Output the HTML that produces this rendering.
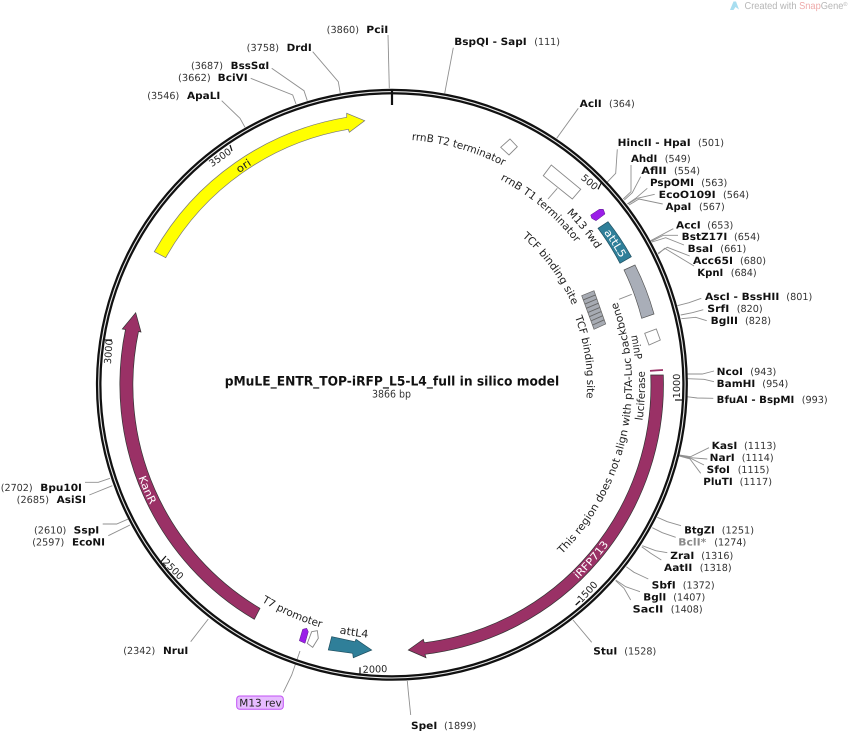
<!DOCTYPE html>
<html lang="en">
<head>
<meta charset="utf-8">
<title>pMuLE_ENTR_TOP-iRFP_L5-L4_full in silico model</title>
<style>
html,body{margin:0;padding:0;background:#fff;width:848px;height:731px;overflow:hidden}
svg{display:block}
text{font-family:"DejaVu Sans","Liberation Sans",sans-serif;fill:#111;text-rendering:geometricPrecision}
.n{font-weight:bold;font-size:10px}
.p{font-size:9.7px;fill:#333}
.t{font-size:9.7px;fill:#222}
.f{font-size:10.5px;fill:#222}
.l{fill:none;stroke:#8f8f8f;stroke-width:.9}
.w{fill:#fff;font-size:10.5px}
</style>
</head>
<body>
<svg width="848" height="731" viewBox="0 0 848 731" xmlns="http://www.w3.org/2000/svg">
<defs>
<path id="c246" d="M392 139.2A245.6 245.6 0 1 1 392 630.4A245.6 245.6 0 1 1 392 139.2"/>
<path id="c232" d="M392 152.8A232 232 0 1 1 392 616.8A232 232 0 1 1 392 152.8"/>
<path id="c245" d="M392 139.8A245 245 0 1 1 392 629.8A245 245 0 1 1 392 139.8"/>
<path id="c197" d="M392 187.8A197 197 0 1 1 392 581.8A197 197 0 1 1 392 187.8"/>
<path id="c195" d="M392 189.8A195 195 0 1 1 392 579.8A195 195 0 1 1 392 189.8"/>
<path id="c244" d="M392 140.8A244 244 0 1 1 392 628.8A244 244 0 1 1 392 140.8"/>
<path id="c261" d="M392 123.8A261 261 0 1 1 392 645.8A261 261 0 1 1 392 123.8"/>
<path id="a253" d="M392 131.8A253 253 0 1 0 392 637.8A253 253 0 1 0 392 131.8"/>
<path id="a240" d="M392 144.8A240 240 0 1 0 392 624.8A240 240 0 1 0 392 144.8"/>
<path id="a254" d="M392 130.8A254 254 0 1 0 392 638.8A254 254 0 1 0 392 130.8"/>
<path id="a269" d="M392 115.8A269 269 0 1 0 392 653.8A269 269 0 1 0 392 115.8"/>
<path id="a270" d="M392 114.8A270 270 0 1 0 392 654.8A270 270 0 1 0 392 114.8"/>
</defs>

<!-- watermark -->
<path d="M730 10L733.5 1.5L736 1.5L739 9.5L735.5 7L733.5 10Z" fill="#a8def0"/>
<text x="744.5" y="9" style="font-family:'Liberation Sans',sans-serif;font-size:10px;fill:#b5b5b5" textLength="103" lengthAdjust="spacingAndGlyphs">Created with <tspan style="fill:#eeaaaa">Snap</tspan>Gene<tspan font-size="6" dy="-3">®</tspan></text>

<!-- connector lines -->
<g class="l">
<polyline points="453.3,47.7 444.7,93.3"/>
<polyline points="578.3,108.3 556.7,138.3"/>
<polyline points="617.3,149.3 615.7,173.3 606.7,182.7 603,186"/>
<polyline points="631,165 631,191.7 623.3,199"/>
<polyline points="640.7,176.7 632.3,192.7 624.3,200"/>
<polyline points="647.3,188.3 635.7,198.3 627.3,204"/>
<polyline points="654.7,194.3 637.3,198.3 628,204"/>
<polyline points="662.7,204 639,199 629,205"/>
<polyline points="673.3,228.7 661.3,235 650.7,240.7"/>
<polyline points="678,235.3 663.3,235.3 651.3,241.3"/>
<polyline points="684,245 665.7,237.7 652,242"/>
<polyline points="689.7,256 667.3,247.3 658,253.3"/>
<polyline points="694,266 664.7,248.3 658.3,254"/>
<polyline points="701.3,298.3 689,302.7 677.3,305.7"/>
<polyline points="703.3,309.7 692.3,312.7 680.7,315"/>
<polyline points="706.7,320.7 695.7,317.3 681.3,318.7"/>
<polyline points="714,371 702.3,374 687.3,374"/>
<polyline points="714,381.7 704,379.3 687.3,378.7"/>
<polyline points="713.3,398.3 697.3,398 686.7,396.7"/>
<polyline points="709,447.7 690.7,456.7 679,455"/>
<polyline points="707.3,459 690.7,457.7 679,455.3"/>
<polyline points="704,465 690.7,458.3 679,455.7"/>
<polyline points="700.7,473.3 690,459 679,456"/>
<polyline points="681,525.7 667.3,521.7 657.3,517.3"/>
<polyline points="675.7,537.3 662.3,532.7 652.3,527.7"/>
<polyline points="667.3,552.7 655.7,550.7 642.3,545.7"/>
<polyline points="661.3,560 650.7,553.3 641.7,546.7"/>
<polyline points="648.3,579 634,572.3 626.3,566.7"/>
<polyline points="640,591.7 625.7,586.7 615.7,580"/>
<polyline points="630.7,600 624,588.3 615.7,580.7"/>
<polyline points="591.7,642.3 573,620"/>
<polyline points="410.7,715 408.3,691.7 407.3,681"/>
<polyline points="388,35 389.3,88.3"/>
<polyline points="312.7,51.7 338.3,81.7 340.3,93.3"/>
<polyline points="271.7,68.3 304,90.7 307.3,100.7"/>
<polyline points="250.7,78.3 292.7,95 296,104"/>
<polyline points="221.7,100.7 240,118.3 245,127.3"/>
<polyline points="85,482.3 98.3,482.3 110,478.3"/>
<polyline points="89.3,495 112.3,485.7"/>
<polyline points="102.7,524 116.7,524 128.3,519"/>
<polyline points="108.3,535.7 130,525"/>
<polyline points="190.7,641.7 208.3,619"/>
<polyline points="283.3,692.3 291.7,675 300,651"/>
<polyline points="619,299.3 631.7,294.3"/>
<polyline points="557.3,188.3 548,199"/>
</g>

<!-- backbone ring -->
<circle cx="391.9" cy="384.8" r="293.2" fill="none" stroke="#111" stroke-width="5.6"/>
<circle cx="391.9" cy="384.8" r="293.2" fill="none" stroke="#e8e8e8" stroke-width="1.1"/>

<!-- ticks -->
<g stroke="#111" fill="none">
<line x1="392" y1="90" x2="392" y2="105" stroke-width="2.2"/>
<line x1="601.5" y1="182.5" x2="598" y2="189.3" stroke-width="1.2"/>
<line x1="675" y1="400" x2="682" y2="400" stroke-width="1.2"/>
<line x1="575.7" y1="605" x2="580" y2="601" stroke-width="1.2"/>
<line x1="360" y1="667.3" x2="360" y2="675" stroke-width="1.2"/>
<line x1="161" y1="561.7" x2="166" y2="556" stroke-width="1.2"/>
<line x1="105" y1="340" x2="112" y2="340" stroke-width="1.2"/>
<line x1="230" y1="145" x2="232" y2="151" stroke-width="1.2"/>
</g>
<g class="t" text-anchor="middle">
<text class="t" transform="translate(589.7,182) rotate(40)" y="3.5">500</text>
<text class="t" transform="translate(676.3,386) rotate(-90)" y="3.5">1000</text>
<text class="t" transform="translate(587.3,591.7) rotate(-47)" y="3.5">1500</text>
<text class="t" transform="translate(375,669) rotate(-2)" y="3.5">2000</text>
<text class="t" transform="translate(173.3,569) rotate(45)" y="3.5">2500</text>
<text class="t" transform="translate(108.3,351.7) rotate(-86)" y="3.5">3000</text>
<text class="t" transform="translate(220,157.3) rotate(-35)" y="3.5">3500</text>
</g>

<!-- features -->
<path d="M154.3 251.7A272 272 0 0 1 346.7 117.3L346.7 113.3L364.7 120.7L349.3 132.3L348.3 129.3A258.5 258.5 0 0 0 165.7 257.7Z" fill="#ffff00" stroke="#777" stroke-width=".7"/>
<path d="M663.3 375A271.5 271.5 0 0 1 425 654.3L426 657.7L408.3 650L423.3 639.3L424.3 642.7A259 259 0 0 0 650.7 375Z" fill="#9a3166" stroke="#333" stroke-width=".7"/>
<path d="M254.3 619.3L260 608.3A259.5 259.5 0 0 1 138.5 331.5L141 332L135.7 312.7L122.3 329L125.5 329.5A272 272 0 0 0 254.3 619.3Z" fill="#9a3166" stroke="#333" stroke-width=".7"/>
<path d="M598 228.3L608 221.7A270 270 0 0 1 631.3 256.7L620 263.3A258 258 0 0 0 598 228.3Z" fill="#2f7f99" stroke="#1f4f60" stroke-width=".7"/>
<path d="M624 270L635 265A270.6 270.6 0 0 1 654 314L641.7 318.3A258 258 0 0 0 624 270Z" fill="#a9aeb8" stroke="#555" stroke-width=".7"/>
<path d="M650 370.9A260 260 0 0 1 663 370" fill="none" stroke="#9a3166" stroke-width="1.8"/>
<polygon points="644.7,333.3 656.3,329 660.3,340 649,345" fill="#fff" stroke="#888" stroke-width=".9"/>
<polygon points="500.7,147.3 510,139 517.3,146.7 509,155" fill="#fff" stroke="#888" stroke-width=".9"/>
<polygon points="543.3,175.7 551.3,165 580.7,189.3 572.3,199" fill="#fff" stroke="#888" stroke-width=".9"/>
<polygon points="581.7,295.7 594,290.7 605.7,324 594,329.3" fill="#a7abb3" stroke="#666" stroke-width=".7"/>
<g stroke="#666" stroke-width=".9">
<line x1="583.2" y1="299.9" x2="595.5" y2="294.9"/>
<line x1="584.8" y1="304.1" x2="596.9" y2="299"/>
<line x1="586.3" y1="308.3" x2="598.4" y2="303.2"/>
<line x1="587.9" y1="312.5" x2="599.9" y2="307.4"/>
<line x1="589.4" y1="316.7" x2="601.3" y2="311.5"/>
<line x1="591" y1="320.9" x2="602.8" y2="315.7"/>
<line x1="592.5" y1="325.1" x2="604.2" y2="319.8"/>
</g>
<polygon points="591.7,218.3 596,220.7 605,214 603.3,209.3 599.3,209.3 590.7,215" fill="#9b1fe8" stroke="#5a1a88" stroke-width=".5"/>
<polygon points="302.7,629.3 306.7,628.3 308.3,631.7 305,643.3 299.3,640.7" fill="#9b1fe8" stroke="#5a1a88" stroke-width=".5"/>
<polygon points="311.7,631.7 317.3,630.7 318.3,638.3 312.7,647.3 307.3,643.3" fill="#fff" stroke="#888" stroke-width=".9"/>
<polygon points="331.7,636.7 328.3,650 352.7,653.3 353.3,657.7 371.7,650 356,639.3 355,641.7" fill="#2f7f99" stroke="#1f4f60" stroke-width=".7"/>

<!-- curved labels -->
<text class="f"><textPath href="#c246" startOffset="19.7" textLength="96" lengthAdjust="spacingAndGlyphs">rrnB T2 terminator</textPath></text>
<text class="f"><textPath href="#c232" startOffset="112.6" textLength="99" lengthAdjust="spacingAndGlyphs">rrnB T1 terminator</textPath></text>
<text class="f"><textPath href="#c245" startOffset="194.1" textLength="47" lengthAdjust="spacingAndGlyphs">M13 fwd</textPath></text>
<text class="f"><textPath href="#c197" startOffset="142" textLength="85.6" lengthAdjust="spacingAndGlyphs">TCF binding site</textPath></text>
<text class="f"><textPath href="#c195" startOffset="236.9" textLength="83" lengthAdjust="spacingAndGlyphs">TCF binding site</textPath></text>
<text class="f"><textPath href="#c244" startOffset="333.8" textLength="24" lengthAdjust="spacingAndGlyphs">minP</textPath></text>
<text class="f"><textPath href="#c261" startOffset="1476" textLength="15.5" lengthAdjust="spacingAndGlyphs">ori</textPath></text>
<text class="f"><textPath href="#a253" startOffset="1155.6" textLength="50" lengthAdjust="spacingAndGlyphs">luciferase</textPath></text>
<text class="f"><textPath href="#a240" startOffset="942.5" textLength="272.7" lengthAdjust="spacingAndGlyphs">This region does not align with pTA-Luc backbone</textPath></text>
<text class="f"><textPath href="#a253" startOffset="657.5" textLength="65" lengthAdjust="spacingAndGlyphs">T7 promoter</textPath></text>
<text class="f"><textPath href="#a254" startOffset="744.7" textLength="29" lengthAdjust="spacingAndGlyphs">attL4</textPath></text>
<text class="w" style="fill:#fff"><textPath href="#a269" startOffset="1050.3" textLength="46.5" lengthAdjust="spacingAndGlyphs">iRFP713</textPath></text>
<text class="w" style="fill:#fff"><textPath href="#a270" startOffset="518.4" textLength="30" lengthAdjust="spacingAndGlyphs">KanR</textPath></text>
<text class="w" style="fill:#fff"><textPath href="#c261" startOffset="246.9" textLength="31" lengthAdjust="spacingAndGlyphs">attL5</textPath></text>

<!-- center title -->
<text x="224.7" y="385.5" style="font-weight:bold;font-size:13px" textLength="334.5" lengthAdjust="spacingAndGlyphs">pMuLE_ENTR_TOP-iRFP_L5-L4_full in silico model</text>
<text x="372" y="397.5" style="font-size:10.5px;fill:#333" textLength="39" lengthAdjust="spacingAndGlyphs">3866 bp</text>

<!-- M13 rev -->
<rect x="236.7" y="696" width="46.6" height="13.3" rx="3" fill="#e7bcff" stroke="#c050f5" stroke-width="1"/>
<text x="239.3" y="706.7" style="font-size:10.5px;fill:#222" textLength="42.4" lengthAdjust="spacingAndGlyphs">M13 rev</text>

<!-- enzyme labels -->
<g>
<text class="n" x="454.3" y="45" textLength="72.4" lengthAdjust="spacingAndGlyphs">BspQI - SapI</text><text class="p" x="534.3" y="45" textLength="25.7" lengthAdjust="spacingAndGlyphs">(111)</text>
<text class="n" x="579.7" y="107" textLength="22" lengthAdjust="spacingAndGlyphs">AclI</text><text class="p" x="609" y="107" textLength="25.7" lengthAdjust="spacingAndGlyphs">(364)</text>
<text class="n" x="617.7" y="146" textLength="73" lengthAdjust="spacingAndGlyphs">HincII - HpaI</text><text class="p" x="698" y="146" textLength="26" lengthAdjust="spacingAndGlyphs">(501)</text>
<text class="n" x="631" y="162" textLength="26.3" lengthAdjust="spacingAndGlyphs">AhdI</text><text class="p" x="664.7" y="162" textLength="26" lengthAdjust="spacingAndGlyphs">(549)</text>
<text class="n" x="641.3" y="174" textLength="25.4" lengthAdjust="spacingAndGlyphs">AflII</text><text class="p" x="674" y="174" textLength="26" lengthAdjust="spacingAndGlyphs">(554)</text>
<text class="n" x="650" y="186" textLength="44" lengthAdjust="spacingAndGlyphs">PspOMI</text><text class="p" x="701.3" y="186" textLength="26" lengthAdjust="spacingAndGlyphs">(563)</text>
<text class="n" x="658.7" y="198" textLength="57" lengthAdjust="spacingAndGlyphs">EcoO109I</text><text class="p" x="723" y="198" textLength="26" lengthAdjust="spacingAndGlyphs">(564)</text>
<text class="n" x="665.7" y="210" textLength="25.6" lengthAdjust="spacingAndGlyphs">ApaI</text><text class="p" x="699" y="210" textLength="25.7" lengthAdjust="spacingAndGlyphs">(567)</text>
<text class="n" x="676" y="228.5" textLength="24.7" lengthAdjust="spacingAndGlyphs">AccI</text><text class="p" x="707.3" y="228.5" textLength="26" lengthAdjust="spacingAndGlyphs">(653)</text>
<text class="n" x="681.7" y="240" textLength="45.6" lengthAdjust="spacingAndGlyphs">BstZ17I</text><text class="p" x="734" y="240" textLength="26" lengthAdjust="spacingAndGlyphs">(654)</text>
<text class="n" x="687.7" y="252" textLength="25.3" lengthAdjust="spacingAndGlyphs">BsaI</text><text class="p" x="720.3" y="252" textLength="26" lengthAdjust="spacingAndGlyphs">(661)</text>
<text class="n" x="693" y="264" textLength="40" lengthAdjust="spacingAndGlyphs">Acc65I</text><text class="p" x="740" y="264" textLength="26" lengthAdjust="spacingAndGlyphs">(680)</text>
<text class="n" x="697.3" y="276" textLength="26" lengthAdjust="spacingAndGlyphs">KpnI</text><text class="p" x="730.7" y="276" textLength="26" lengthAdjust="spacingAndGlyphs">(684)</text>
<text class="n" x="705" y="300" textLength="74.3" lengthAdjust="spacingAndGlyphs">AscI - BssHII</text><text class="p" x="786.3" y="300" textLength="26" lengthAdjust="spacingAndGlyphs">(801)</text>
<text class="n" x="707.3" y="312" textLength="22" lengthAdjust="spacingAndGlyphs">SrfI</text><text class="p" x="736.7" y="312" textLength="26" lengthAdjust="spacingAndGlyphs">(820)</text>
<text class="n" x="710.7" y="324" textLength="27.3" lengthAdjust="spacingAndGlyphs">BglII</text><text class="p" x="745" y="324" textLength="26" lengthAdjust="spacingAndGlyphs">(828)</text>
<text class="n" x="716.7" y="375" textLength="26.3" lengthAdjust="spacingAndGlyphs">NcoI</text><text class="p" x="750.3" y="375" textLength="26" lengthAdjust="spacingAndGlyphs">(943)</text>
<text class="n" x="716.7" y="387" textLength="38.6" lengthAdjust="spacingAndGlyphs">BamHI</text><text class="p" x="762.3" y="387" textLength="26" lengthAdjust="spacingAndGlyphs">(954)</text>
<text class="n" x="716.7" y="403" textLength="77.6" lengthAdjust="spacingAndGlyphs">BfuAI - BspMI</text><text class="p" x="801.7" y="403" textLength="26" lengthAdjust="spacingAndGlyphs">(993)</text>
<text class="n" x="711.7" y="449" textLength="25.6" lengthAdjust="spacingAndGlyphs">KasI</text><text class="p" x="744" y="449" textLength="32.3" lengthAdjust="spacingAndGlyphs">(1113)</text>
<text class="n" x="709.7" y="461" textLength="25" lengthAdjust="spacingAndGlyphs">NarI</text><text class="p" x="741.7" y="461" textLength="32" lengthAdjust="spacingAndGlyphs">(1114)</text>
<text class="n" x="706.7" y="473" textLength="23.3" lengthAdjust="spacingAndGlyphs">SfoI</text><text class="p" x="737.7" y="473" textLength="31.6" lengthAdjust="spacingAndGlyphs">(1115)</text>
<text class="n" x="703.3" y="485" textLength="29.4" lengthAdjust="spacingAndGlyphs">PluTI</text><text class="p" x="739.7" y="485" textLength="32.3" lengthAdjust="spacingAndGlyphs">(1117)</text>
<text class="n" x="684.3" y="533.5" textLength="30.4" lengthAdjust="spacingAndGlyphs">BtgZI</text><text class="p" x="721.7" y="533.5" textLength="32.3" lengthAdjust="spacingAndGlyphs">(1251)</text>
<text class="n" x="678.3" y="545.5" textLength="28" lengthAdjust="spacingAndGlyphs" style="fill:#8a8a8a">BclI*</text><text class="p" x="714.3" y="545.5" textLength="32" lengthAdjust="spacingAndGlyphs">(1274)</text>
<text class="n" x="670.3" y="559" textLength="24" lengthAdjust="spacingAndGlyphs">ZraI</text><text class="p" x="701.3" y="559" textLength="32" lengthAdjust="spacingAndGlyphs">(1316)</text>
<text class="n" x="664" y="571" textLength="28.3" lengthAdjust="spacingAndGlyphs">AatII</text><text class="p" x="699.7" y="571" textLength="32" lengthAdjust="spacingAndGlyphs">(1318)</text>
<text class="n" x="651.7" y="588.5" textLength="24" lengthAdjust="spacingAndGlyphs">SbfI</text><text class="p" x="682.7" y="588.5" textLength="32" lengthAdjust="spacingAndGlyphs">(1372)</text>
<text class="n" x="643.3" y="600.5" textLength="23" lengthAdjust="spacingAndGlyphs">BglI</text><text class="p" x="673.3" y="600.5" textLength="32" lengthAdjust="spacingAndGlyphs">(1407)</text>
<text class="n" x="632.7" y="612.5" textLength="30.6" lengthAdjust="spacingAndGlyphs">SacII</text><text class="p" x="670.7" y="612.5" textLength="32" lengthAdjust="spacingAndGlyphs">(1408)</text>
<text class="n" x="593.3" y="654.5" textLength="24" lengthAdjust="spacingAndGlyphs">StuI</text><text class="p" x="624.3" y="654.5" textLength="32" lengthAdjust="spacingAndGlyphs">(1528)</text>
<text class="n" x="411" y="729" textLength="26.3" lengthAdjust="spacingAndGlyphs">SpeI</text><text class="p" x="444" y="729" textLength="32.3" lengthAdjust="spacingAndGlyphs">(1899)</text>
<text class="p" x="326.7" y="33" textLength="32.3" lengthAdjust="spacingAndGlyphs">(3860)</text><text class="n" x="366.3" y="33" textLength="22" lengthAdjust="spacingAndGlyphs">PciI</text>
<text class="p" x="246.7" y="51" textLength="32.3" lengthAdjust="spacingAndGlyphs">(3758)</text><text class="n" x="286.7" y="51" textLength="25" lengthAdjust="spacingAndGlyphs">DrdI</text>
<text class="p" x="191" y="69" textLength="32" lengthAdjust="spacingAndGlyphs">(3687)</text><text class="n" x="230.7" y="69" textLength="38.6" lengthAdjust="spacingAndGlyphs">BssSαI</text>
<text class="p" x="178" y="81" textLength="32.7" lengthAdjust="spacingAndGlyphs">(3662)</text><text class="n" x="217.7" y="81" textLength="30" lengthAdjust="spacingAndGlyphs">BciVI</text>
<text class="p" x="147.3" y="99" textLength="32" lengthAdjust="spacingAndGlyphs">(3546)</text><text class="n" x="187" y="99" textLength="33.3" lengthAdjust="spacingAndGlyphs">ApaLI</text>
<text class="p" x="0.7" y="491" textLength="32" lengthAdjust="spacingAndGlyphs">(2702)</text><text class="n" x="40.3" y="491" textLength="41.7" lengthAdjust="spacingAndGlyphs">Bpu10I</text>
<text class="p" x="16.7" y="503" textLength="32.3" lengthAdjust="spacingAndGlyphs">(2685)</text><text class="n" x="56.7" y="503" textLength="29.3" lengthAdjust="spacingAndGlyphs">AsiSI</text>
<text class="p" x="34" y="533.5" textLength="32.3" lengthAdjust="spacingAndGlyphs">(2610)</text><text class="n" x="73.7" y="533.5" textLength="25.6" lengthAdjust="spacingAndGlyphs">SspI</text>
<text class="p" x="32.3" y="545.5" textLength="32" lengthAdjust="spacingAndGlyphs">(2597)</text><text class="n" x="72" y="545.5" textLength="33" lengthAdjust="spacingAndGlyphs">EcoNI</text>
<text class="p" x="123.3" y="654" textLength="32" lengthAdjust="spacingAndGlyphs">(2342)</text><text class="n" x="163" y="654" textLength="25.3" lengthAdjust="spacingAndGlyphs">NruI</text>
</g>
</svg>
</body>
</html>
